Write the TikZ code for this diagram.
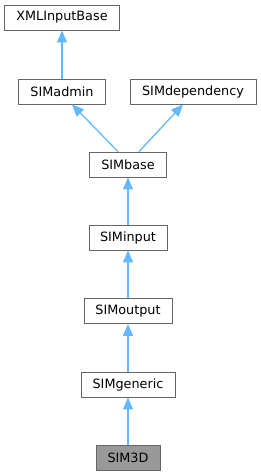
\documentclass[tikz,border=0pt]{standalone}
\usepackage{fontspec}
\setmainfont{DejaVu Sans}
\usetikzlibrary{arrows.meta, positioning, calc}
\definecolor{edgeblue}{HTML}{63B8FF}
\definecolor{boxgray}{HTML}{666666}
\definecolor{curgray}{HTML}{999999}
\tikzset{
  classbox/.style={draw=boxgray, line width=0.9pt, fill=white, minimum height=25pt,
    inner xsep=0pt, font=\fontsize{12.8}{15}\selectfont},
  inherit/.style={edgeblue, line width=1.3pt, -{Triangle[length=12pt,width=10pt]}}
}
\begin{document}
\begin{tikzpicture}[x=1pt, y=-1pt]
        \useasboundingbox (0,0) rectangle (261,476);
        % classes, top to bottom
        \node[classbox, minimum width=115pt] (xmlbase) at (62,17.5) {XMLInputBase};
        \node[classbox, minimum width=87pt] (admin) at (62,91.5) {SIMadmin};
        \node[classbox, minimum width=126pt] (depend) at (193,91.5) {SIMdependency};
        \node[classbox, minimum width=77pt] (base) at (128,164.5) {SIMbase};
        \node[classbox, minimum width=78pt] (input) at (128,237.5) {SIMinput};
        \node[classbox, minimum width=88pt] (output) at (128,311) {SIMoutput};
        \node[classbox, minimum width=94pt] (generic) at (128,384.5) {SIMgeneric};
        \node[classbox, minimum width=64pt, fill=curgray] (sim3d) at (128,457.5) {SIM3D};
        % inheritance arrows
        \draw[inherit] (admin.north) -- (xmlbase.south);
        \draw[inherit] ($(base.north)+(-10,0)$) -- ($(admin.south)+(10,0)$);
        \draw[inherit] ($(base.north)+(11,0)$) -- ($(depend.south)+(-10,0)$);
        \draw[inherit] (input.north) -- (base.south);
        \draw[inherit] (output.north) -- (input.south);
        \draw[inherit] (generic.north) -- (output.south);
        \draw[inherit] (sim3d.north) -- (generic.south);
      \end{tikzpicture}
\end{document}
